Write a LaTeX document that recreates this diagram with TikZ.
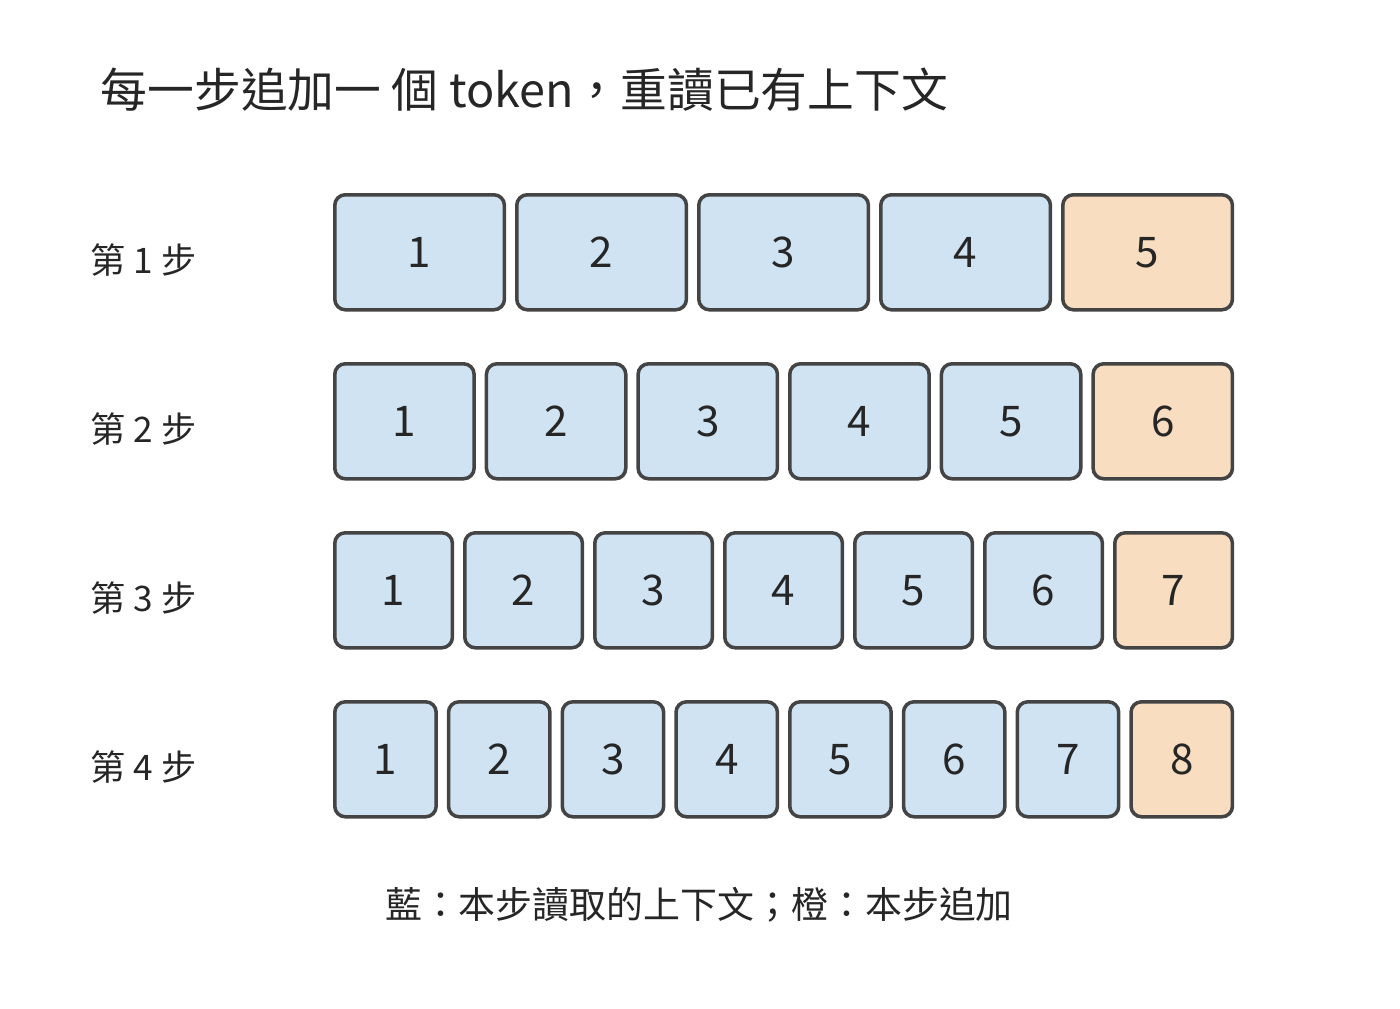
\documentclass[tikz,border=0pt]{standalone}
\usepackage{fontspec}
\setmainfont{Noto Sans CJK TC}
\definecolor{ctxblue}{HTML}{CFE3F2}
\definecolor{newtan}{HTML}{F8DDC0}
\definecolor{edgegray}{HTML}{444444}
\tikzset{
  tok/.style={draw=edgegray, line width=1pt, rounded corners=3pt, inner sep=0pt,
    anchor=north west, font=\fontsize{12}{14}\selectfont, text=black!85},
  ctx/.style={tok, fill=ctxblue},
  add/.style={tok, fill=newtan},
  steplbl/.style={anchor=west, font=\fontsize{10}{12}\selectfont, text=black!85}
}
\begin{document}
\begin{tikzpicture}[x=0.01cm, y=-0.01cm]
\useasboundingbox (0,0) rectangle (1400,1008);
\node[anchor=west, inner sep=0pt, font=\fontsize{13.3}{16}\selectfont, text=black!85] (title) at (100,90) {每一步追加一 個 token，重讀已有上下文};

\foreach \r in {1,...,4} {
  \pgfmathtruncatemacro{\n}{\r+4}
  \pgfmathsetmacro{\w}{910/\n}
  \pgfmathsetmacro{\top}{193+169*(\r-1)}
  \node[steplbl, inner sep=0pt] (lbl-\r) at (90,\top+67) {第 \r{} 步};
  \foreach \i in {1,...,\n} {
    \pgfmathsetmacro{\xx}{333+\w*(\i-1)}
    \ifnum\i=\n
      \node[add, minimum width=\w*0.01cm-3.5pt, minimum height=115*0.01cm] (b-\r-\i) at (\xx,\top) {\i};
    \else
      \node[ctx, minimum width=\w*0.01cm-3.5pt, minimum height=115*0.01cm] (b-\r-\i) at (\xx,\top) {\i};
    \fi
  }
}

\node[font=\fontsize{10.5}{13}\selectfont, text=black!85] (legend) at (699,905) {藍：本步讀取的上下文；橙：本步追加};
\end{tikzpicture}
\end{document}
